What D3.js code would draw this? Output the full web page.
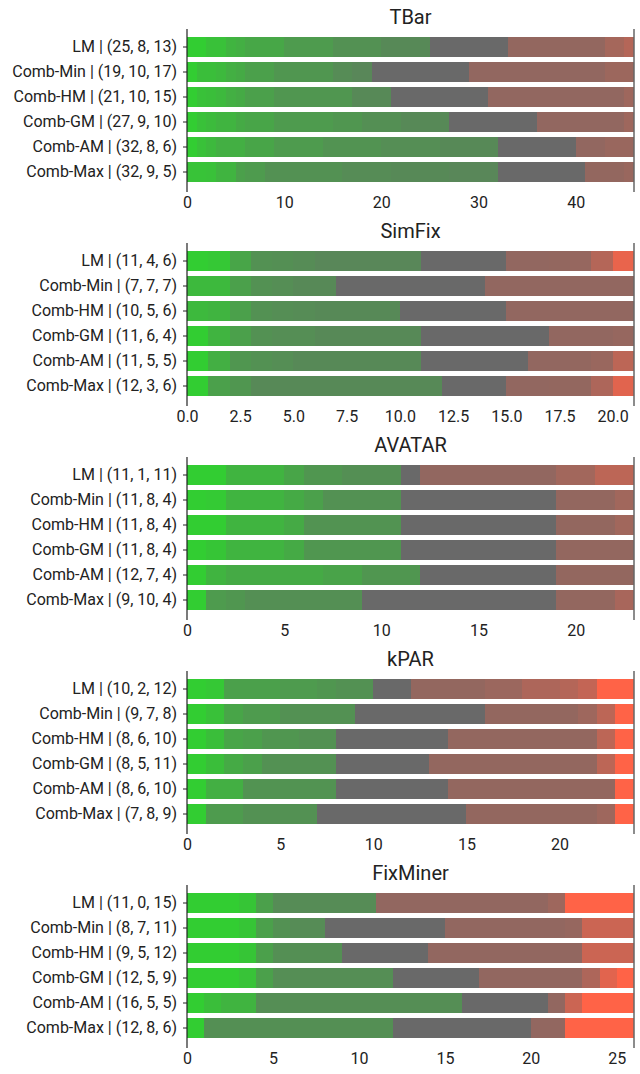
<!DOCTYPE html>
<html>
<head>
<meta charset="utf-8">
<script src="https://cdn.jsdelivr.net/npm/d3@7"></script>
<style>
  body { margin: 0; background: #fff; }
  text { font-family: Roboto, "Noto Sans", sans-serif; fill: #222; }
</style>
</head>
<body>
<script>
// tools (one panel each) and the methods (one bar each)
var tools = ["TBar", "SimFix", "AVATAR", "kPAR", "FixMiner"];
var methods = ["LM", "Comb-Min", "Comb-HM", "Comb-GM", "Comb-AM", "Comb-Max"];

// (correct, unranked, incorrect) per method, per tool
var counts = [
  [[25, 8, 13], [19, 10, 17], [21, 10, 15], [27, 9, 10], [32, 8, 6], [32, 9, 5]],
  [[11, 4, 6], [7, 7, 7], [10, 5, 6], [11, 6, 4], [11, 5, 5], [12, 3, 6]],
  [[11, 1, 11], [11, 8, 4], [11, 8, 4], [11, 8, 4], [12, 7, 4], [9, 10, 4]],
  [[10, 2, 12], [9, 7, 8], [8, 6, 10], [8, 5, 11], [8, 6, 10], [7, 8, 9]],
  [[11, 0, 15], [8, 7, 11], [9, 5, 12], [12, 5, 9], [16, 5, 5], [12, 8, 6]]
];

// x tick values per panel
var tickValues = [
  [0, 10, 20, 30, 40],
  [0, 2.5, 5, 7.5, 10, 12.5, 15, 17.5, 20],
  [0, 5, 10, 15, 20],
  [0, 5, 10, 15, 20],
  [0, 5, 10, 15, 20, 25]
];

// shade runs [cells, fade], fade 0 = full colour
var tbarGreen = [
  [[2, 0], [2, .12], [1, .25], [1, .3], [4, .38], [5, .5], [5, .6], [5, .68]],
  [[1, 0], [2, .15], [1, .2], [1, .3], [1, .35], [3, .45], [6, .55], [2, .65], [2, .7]],
  [[1, 0], [1, .12], [1, .15], [1, .2], [1, .3], [1, .35], [3, .45], [8, .55], [4, .68]],
  [[1, 0], [1, .12], [1, .18], [2, .25], [1, .35], [3, .4], [6, .5], [3, .55], [4, .62], [5, .68]],
  [[1, 0], [1, .12], [1, .2], [3, .3], [3, .4], [5, .5], [6, .58], [6, .63], [6, .68]],
  [[2, .1], [1, .12], [2, .25], [1, .45], [2, .5], [8, .6], [5, .65], [6, .68], [5, .7]]
];
var tbarRed = [
  [[10, .72], [2, .6], [1, .5]],
  [[14, .73], [3, .66]],
  [[14, .73], [1, .65]],
  [[9, .73], [1, .65]],
  [[3, .73], [3, .68]],
  [[4, .72], [1, .68]]
];
var simfixGreen = [
  [[1, 0], [1, .05], [1, .4], [1, .6], [1, .62], [1, .65], [5, .7]],
  [[2, .2], [1, .45], [1, .6], [1, .63], [2, .68]],
  [[1, .2], [1, .25], [1, .45], [1, .6], [1, .63], [1, .65], [4, .68]],
  [[1, 0], [1, .25], [1, .45], [1, .6], [2, .63], [5, .68]],
  [[1, 0], [1, .3], [1, .55], [1, .6], [1, .63], [6, .68]],
  [[1, 0], [1, .45], [1, .55], [9, .68]]
];
var simfixRed = [
  [[2, .73], [1, .72], [1, .7], [1, .5], [1, .15]],
  [[7, .73]],
  [[6, .73]],
  [[3, .73], [1, .7]],
  [[2, .73], [1, .72], [1, .68], [1, .45]],
  [[2, .73], [2, .72], [1, .55], [1, .2]]
];
var avatarGreen = [
  [[2, 0], [3, .25], [1, .4], [2, .55], [3, .62]],
  [[1, 0], [1, .03], [3, .25], [1, .35], [1, .45], [4, .6]],
  [[2, 0], [3, .25], [1, .35], [5, .58]],
  [[1, 0], [1, .08], [3, .25], [1, .35], [5, .55]],
  [[1, 0], [1, .25], [5, .35], [2, .42], [3, .55]],
  [[1, 0], [1, .5], [1, .55], [6, .62]]
];
var avatarRed = [
  [[7, .73], [2, .62], [2, .45]],
  [[3, .72], [1, .63]],
  [[3, .72], [1, .63]],
  [[4, .72]],
  [[4, .72]],
  [[3, .72], [1, .58]]
];
var kparGreen = [
  [[1, 0], [1, .05], [3, .45], [2, .5], [1, .55], [2, .6]],
  [[1, 0], [1, .12], [1, .4], [2, .5], [4, .6]],
  [[1, 0], [1, .15], [1, .4], [1, .45], [2, .55], [2, .6]],
  [[1, 0], [1, .15], [1, .35], [1, .45], [4, .6]],
  [[1, 0], [2, .3], [5, .58]],
  [[1, 0], [2, .5], [4, .6]]
];
var kparRed = [
  [[4, .72], [2, .67], [2, .55], [1, .5], [1, .4], [2, 0]],
  [[5, .72], [1, .65], [1, .45], [1, 0]],
  [[8, .72], [1, .45], [1, 0]],
  [[9, .72], [1, .45], [1, 0]],
  [[9, .72], [1, 0]],
  [[7, .72], [1, .65], [1, 0]]
];
var fixminerGreen = [
  [[3, 0], [1, .08], [1, .45], [6, .65]],
  [[3, 0], [1, .08], [1, .45], [1, .6], [2, .65]],
  [[3, 0], [1, .08], [1, .45], [4, .62]],
  [[3, 0], [1, .1], [1, .45], [7, .63]],
  [[1, 0], [1, .15], [2, .25], [12, .63]],
  [[1, 0], [11, .62]]
];
var fixminerRed = [
  [[10, .73], [1, .65], [4, 0]],
  [[7, .73], [1, .7], [3, .35]],
  [[9, .73], [3, .35]],
  [[6, .73], [1, .55], [1, .2], [1, 0]],
  [[1, .73], [1, .35], [3, 0]],
  [[2, .73], [4, 0]]
];

var greenRuns = [tbarGreen, simfixGreen, avatarGreen, kparGreen, fixminerGreen];
var redRuns = [tbarRed, simfixRed, avatarRed, kparRed, fixminerRed];

var GREEN = "#32cd32", RED = "#ff6347", GRAY = "#696969";

var width = 640, height = 1074;
var left = 187, right = 634;
var panelStep = 214, firstBarTop = 37;

var svg = d3.select("body").append("svg")
    .attr("width", width)
    .attr("height", height);

tools.forEach(function(tool, p) {
  var total = d3.sum(counts[p][0]);
  var top = firstBarTop + p * panelStep - 2.5;

  var x = d3.scaleLinear().domain([0, total]).range([left, right]);
  var y = d3.scaleBand().domain(methods).range([top, top + 150])
      .paddingInner(0.2).paddingOuter(0.1);

  var g = svg.append("g");

  // build segments for each bar: green runs, one gray block, red runs
  var segs = [];
  methods.forEach(function(m, i) {
    var pos = 0;
    greenRuns[p][i].forEach(function(r) {
      segs.push({m: m, x0: pos, x1: pos + r[0], c: d3.interpolateRgb(GREEN, GRAY)(r[1])});
      pos += r[0];
    });
    if (counts[p][i][1] > 0) {
      segs.push({m: m, x0: pos, x1: pos + counts[p][i][1], c: GRAY});
      pos += counts[p][i][1];
    }
    redRuns[p][i].forEach(function(r) {
      segs.push({m: m, x0: pos, x1: pos + r[0], c: d3.interpolateRgb(RED, GRAY)(r[1])});
      pos += r[0];
    });
  });

  g.selectAll("rect")
    .data(segs)
    .enter()
    .append("rect")
    .attr("x", function(d) { return x(d.x0); })
    .attr("width", function(d) { return x(d.x1) - x(d.x0) + 0.3; })
    .attr("y", function(d) { return y(d.m); })
    .attr("height", y.bandwidth())
    .attr("fill", function(d) { return d.c; })
    .attr("shape-rendering", "crispEdges");

  var spineTop = top - 5.5, spineBottom = top + 157.5;

  // left axis with labels
  var yAxis = g.append("g")
      .attr("transform", "translate(" + left + ",0)")
      .call(d3.axisLeft(y).tickSize(4).tickPadding(6).tickFormat(function(m, i) {
        return m + " | (" + counts[p][i].join(", ") + ")";
      }));
  yAxis.select(".domain").remove();
  yAxis.selectAll("line").attr("stroke", "#222");
  yAxis.selectAll("text").style("font-size", "16px").attr("fill", "#222");

  g.append("line")
    .attr("x1", left).attr("x2", left)
    .attr("y1", spineTop).attr("y2", spineBottom)
    .attr("stroke", "#222").attr("stroke-width", 1.2);
  g.append("line")
    .attr("x1", right).attr("x2", right)
    .attr("y1", spineTop).attr("y2", spineBottom)
    .attr("stroke", "#666").attr("stroke-width", 1.5);

  // bottom tick labels only
  var xAxis = g.append("g")
      .attr("transform", "translate(0," + spineBottom + ")")
      .call(d3.axisBottom(x).tickValues(tickValues[p]).tickSize(0).tickPadding(5)
        .tickFormat(p == 1 ? d3.format(".1f") : d3.format("d")));
  xAxis.select(".domain").remove();
  xAxis.selectAll("text").style("font-size", "16px").attr("fill", "#222");

  // title
  g.append("text")
    .attr("x", (left + right) / 2)
    .attr("y", top - 11)
    .style("text-anchor", "middle")
    .style("font-size", "20px")
    .text(tool);
});
</script>
</body>
</html>
